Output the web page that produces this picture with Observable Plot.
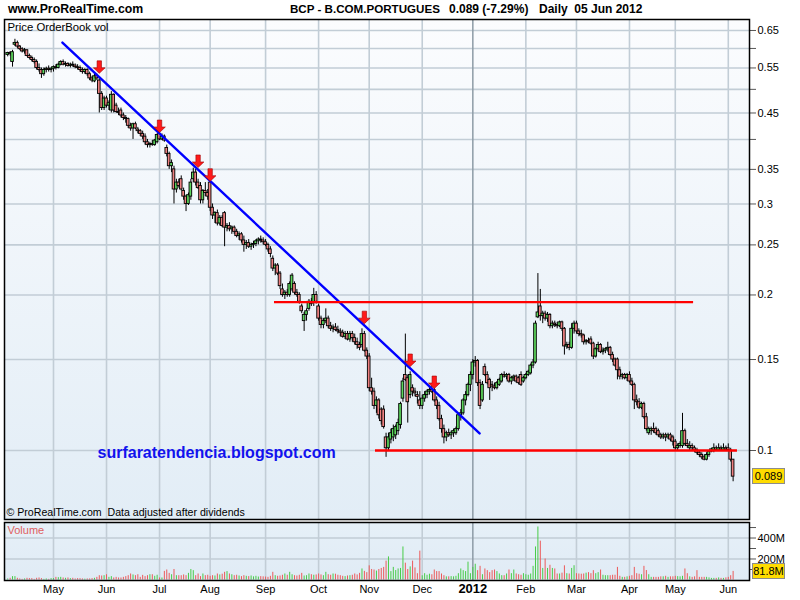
<!DOCTYPE html>
<html><head><meta charset="utf-8">
<script src="https://cdn.jsdelivr.net/npm/d3@7"></script>
<script src="https://cdn.jsdelivr.net/npm/@observablehq/plot@0.6"></script>
<style>
body{margin:0;background:#fff;font-family:"Liberation Sans",Arial,sans-serif;}
#wrap{position:relative;width:800px;height:600px;overflow:hidden;background:#fff}
#price{position:absolute;left:0;top:0}
#vol{position:absolute;left:0;top:520px}
.t{position:absolute;top:2px;font-weight:bold;font-size:12px;line-height:14px;white-space:pre;color:#000}
.box{position:absolute;left:752px;width:31px;height:14px;background:#ffdc00;border:1px solid #8c8c8c;font-size:11px;line-height:14px;text-align:center;color:#000}
</style></head>
<body><div id="wrap">
<div class="t" style="left:8px;font-size:12.3px">www.ProRealTime.com</div>
<div class="t" style="left:290px;font-size:11.6px">BCP - B.COM.PORTUGUES</div>
<div class="t" id="chg" style="left:449px"></div>
<div class="t" style="left:539px">Daily  05 Jun 2012</div>
<div id="price"></div>
<div id="vol"></div>
<div class="box" id="pbox"></div>
<div class="box" id="vbox"></div>
</div>
<script>
// Daily candles [open, high, low, close], one array per month
const apr11 = [[.583,.59,.578,.588],[.588,.592,.58,.585],[.565,.595,.552,.59],[.61,.625,.605,.615],[.615,.62,.60,.605],[.605,.608,.595,.598],[.598,.602,.588,.592],[.592,.60,.585,.595],[.595,.597,.578,.58],[.58,.585,.572,.575],[.575,.58,.565,.57],[.57,.575,.56,.565],[.565,.57,.545,.55],[.55,.56,.54,.545],[.545,.55,.525,.535],[.535,.55,.53,.545],[.545,.552,.538,.548],[.548,.555,.54,.545],[.545,.55,.538,.548]];
const may11 = [[.548,.555,.54,.552],[.552,.558,.545,.55],[.55,.562,.548,.558],[.558,.568,.555,.565],[.565,.57,.555,.558],[.558,.565,.552,.56],[.56,.563,.552,.555],[.555,.562,.55,.558],[.558,.565,.552,.556],[.556,.56,.548,.552],[.552,.558,.545,.55],[.55,.555,.54,.545],[.545,.55,.535,.54],[.54,.548,.535,.545],[.545,.548,.53,.535],[.535,.54,.52,.525],[.525,.53,.515,.52],[.518,.535,.515,.53],[.53,.535,.52,.525],[.52,.525,.45,.49],[.49,.495,.455,.46],[.46,.485,.455,.48]];
const jun11 = [[.48,.485,.46,.465],[.465,.475,.455,.47],[.455,.495,.45,.488],[.488,.49,.45,.455],[.465,.47,.45,.452],[.452,.46,.445,.45],[.455,.46,.44,.445],[.445,.45,.435,.44],[.44,.445,.43,.438],[.438,.44,.42,.425],[.425,.43,.415,.42],[.42,.43,.40,.428],[.428,.432,.418,.42],[.418,.422,.41,.415],[.415,.418,.405,.41],[.41,.415,.40,.405],[.405,.41,.39,.395],[.395,.40,.385,.39],[.39,.395,.385,.392],[.392,.398,.388,.39],[.39,.40,.388,.398],[.395,.41,.392,.408]];
const jul11 = [[.41,.412,.398,.40],[.40,.41,.398,.405],[.405,.408,.395,.398],[.385,.39,.37,.375],[.375,.378,.35,.355],[.355,.365,.345,.36],[.35,.355,.30,.32],[.32,.335,.315,.33],[.33,.335,.322,.325],[.335,.34,.318,.32],[.318,.322,.305,.31],[.31,.312,.29,.30],[.30,.315,.298,.312],[.31,.335,.305,.33],[.335,.352,.33,.345],[.345,.35,.325,.33],[.33,.335,.32,.322],[.325,.33,.30,.305],[.305,.32,.30,.318],[.318,.33,.31,.315],[.315,.32,.305,.31]];
const aug11 = [[.33,.335,.29,.295],[.295,.30,.28,.285],[.285,.29,.275,.288],[.288,.292,.272,.275],[.275,.285,.272,.282],[.282,.285,.27,.272],[.288,.29,.248,.27],[.27,.275,.265,.272],[.272,.276,.265,.268],[.268,.272,.262,.27],[.27,.272,.262,.265],[.265,.268,.258,.26],[.26,.265,.255,.262],[.262,.264,.252,.255],[.255,.26,.242,.25],[.25,.255,.245,.252],[.252,.256,.246,.248],[.248,.252,.244,.25],[.25,.254,.246,.251],[.251,.256,.248,.254],[.254,.258,.25,.256],[.256,.26,.252,.255],[.255,.258,.25,.253]];
const sep11 = [[.253,.256,.248,.25],[.25,.252,.242,.245],[.245,.248,.236,.24],[.235,.238,.222,.225],[.225,.23,.218,.228],[.228,.23,.218,.22],[.22,.222,.205,.208],[.205,.21,.198,.20],[.20,.204,.196,.202],[.202,.205,.198,.20],[.20,.212,.198,.21],[.205,.22,.203,.218],[.21,.212,.20,.202],[.202,.205,.198,.20],[.20,.202,.192,.194],[.19,.192,.184,.186],[.178,.185,.17,.183],[.183,.188,.178,.186],[.188,.196,.186,.194],[.194,.197,.19,.192],[.193,.206,.19,.20],[.20,.203,.192,.194]];
const oct11 = [[.19,.192,.178,.18],[.18,.182,.172,.175],[.175,.18,.172,.178],[.178,.188,.176,.18],[.18,.182,.172,.174],[.174,.177,.17,.172],[.172,.175,.169,.173],[.173,.176,.17,.171],[.171,.174,.168,.17],[.17,.172,.166,.169],[.169,.171,.165,.166],[.166,.17,.164,.168],[.168,.17,.163,.164],[.164,.17,.162,.168],[.168,.17,.162,.165],[.165,.168,.16,.162],[.162,.165,.157,.16],[.16,.162,.156,.158],[.16,.172,.158,.168],[.168,.17,.155,.156],[.156,.158,.15,.152]];
const nov11 = [[.152,.154,.13,.132],[.132,.138,.128,.13],[.13,.132,.12,.122],[.122,.127,.118,.125],[.125,.126,.115,.117],[.12,.121,.112,.114],[.12,.122,.11,.111],[.106,.108,.097,.101],[.101,.108,.10,.106],[.105,.11,.103,.108],[.106,.112,.104,.11],[.107,.112,.105,.111],[.109,.115,.107,.113],[.112,.124,.11,.123],[.126,.138,.124,.136],[.14,.168,.136,.137],[.138,.14,.113,.124],[.128,.142,.126,.14],[.132,.134,.127,.13],[.13,.132,.127,.129],[.128,.13,.123,.127],[.125,.13,.12,.122]];
const dec11 = [[.122,.128,.12,.126],[.126,.13,.124,.128],[.128,.131,.126,.13],[.13,.133,.128,.131],[.131,.134,.129,.13],[.131,.133,.124,.125],[.125,.127,.12,.122],[.122,.124,.114,.115],[.115,.117,.108,.11],[.11,.112,.103,.106],[.106,.109,.104,.108],[.108,.11,.106,.107],[.107,.109,.105,.108],[.108,.11,.106,.109],[.108,.111,.107,.11],[.11,.118,.109,.117],[.117,.12,.114,.118],[.118,.126,.117,.125],[.125,.13,.122,.128],[.128,.135,.127,.134],[.134,.142,.13,.14]];
const jan12 = [[.14,.15,.137,.148],[.148,.152,.145,.149],[.149,.15,.133,.135],[.135,.137,.12,.122],[.125,.136,.124,.134],[.145,.147,.139,.14],[.14,.142,.134,.135],[.137,.138,.125,.132],[.134,.136,.13,.133],[.133,.135,.131,.132],[.132,.136,.131,.135],[.134,.138,.133,.137],[.136,.141,.135,.14],[.14,.142,.138,.139],[.139,.141,.137,.14],[.14,.141,.135,.136],[.136,.139,.134,.138],[.138,.14,.136,.139],[.139,.14,.135,.136],[.138,.139,.134,.135],[.14,.142,.133,.134],[.136,.139,.135,.138]];
const feb12 = [[.138,.141,.137,.14],[.14,.143,.139,.142],[.141,.147,.14,.146],[.146,.15,.144,.148],[.148,.178,.147,.176],[.181,.22,.18,.185],[.19,.205,.178,.182],[.182,.186,.176,.184],[.184,.186,.178,.18],[.18,.185,.177,.183],[.183,.184,.172,.174],[.174,.178,.172,.176],[.176,.178,.173,.175],[.175,.177,.172,.174],[.174,.178,.173,.177],[.177,.178,.17,.172],[.172,.173,.153,.159],[.159,.162,.157,.16],[.16,.162,.156,.158],[.158,.176,.157,.172],[.172,.178,.168,.176]];
const mar12 = [[.176,.178,.168,.17],[.17,.172,.166,.168],[.168,.171,.165,.167],[.167,.168,.16,.162],[.162,.164,.16,.163],[.163,.165,.161,.162],[.164,.166,.16,.161],[.161,.162,.15,.152],[.152,.158,.151,.157],[.157,.162,.155,.16],[.16,.161,.154,.155],[.155,.158,.153,.156],[.156,.158,.154,.157],[.157,.162,.155,.158],[.158,.159,.152,.153],[.153,.155,.148,.15],[.15,.151,.145,.146],[.15,.151,.137,.143],[.143,.145,.137,.139],[.139,.141,.137,.14],[.14,.141,.137,.138],[.138,.141,.136,.14]];
const apr12 = [[.14,.142,.135,.136],[.136,.138,.133,.134],[.134,.135,.12,.125],[.125,.128,.122,.124],[.124,.126,.12,.121],[.121,.124,.12,.123],[.123,.124,.115,.116],[.116,.118,.109,.11],[.108,.111,.107,.11],[.109,.111,.107,.11],[.11,.113,.108,.109],[.11,.111,.107,.108],[.109,.11,.106,.107],[.107,.108,.105,.106],[.106,.108,.105,.107],[.107,.108,.104,.106],[.106,.108,.105,.107],[.107,.108,.104,.105],[.106,.107,.102,.104]];
const may12 = [[.104,.105,.10,.101],[.101,.103,.10,.102],[.102,.104,.101,.103],[.102,.118,.101,.109],[.109,.11,.102,.103],[.103,.105,.101,.102],[.101,.104,.10,.102],[.102,.103,.10,.101],[.101,.102,.099,.10],[.10,.101,.098,.099],[.099,.10,.097,.098],[.098,.099,.096,.097],[.097,.098,.0955,.096],[.096,.099,.0955,.098],[.098,.10,.097,.0995],[.0995,.101,.099,.1005],[.1,.103,.099,.101],[.101,.102,.1,.1003],[.1,.103,.1,.101],[.101,.102,.1,.1004],[.1,.103,.1,.101],[.101,.102,.1,.1004]];
const jun12 = [[.101,.103,.1,.1002],[.1,.101,.095,.096],[.096,.096,.087,.089]];

// Daily volume in millions of shares, one array per month
const volApr11 = [10,16,32,32,16,10,6,10,16,13,13,6,16,19,13,6,10,6,13];
const volMay11 = [13,25,22,25,19,16,19,13,16,10,13,13,10,8,10,10,13,16,25,41,38,41];
const volJun11 = [50,25,32,19,25,19,19,25,32,41,57,48,41,50,25,44,32,41,50,50,35,45];
const volJul11 = [19,19,82,95,63,50,100,41,41,41,48,41,63,100,89,41,57,32,57,41,45];
const volAug11 = [35,41,38,57,48,55,73,80,57,50,41,45,38,32,41,35,32,38,30,35,28,32,30];
const volSep11 = [28,25,35,73,41,35,38,45,57,45,73,50,41,38,45,63,38,41,57,50,45,48];
const volOct11 = [57,48,41,73,50,45,57,55,45,41,35,32,38,41,45,57,48,63,105,82,70];
const volNov11 = [135,100,95,85,100,110,120,180,220,80,120,90,105,110,315,160,100,125,180,115,60,275];
const volDec11 = [40,60,45,55,50,95,80,80,57,41,30,30,32,30,35,60,105,89,80,170,60];
const volJan12 = [120,150,89,130,50,105,89,70,89,95,80,57,41,41,57,95,60,95,57,50,45,60];
const volFeb12 = [50,45,57,130,315,505,370,110,200,110,140,110,105,57,57,65,135,60,57,110,136];
const volMar12 = [60,57,55,57,65,70,60,89,60,70,95,45,41,41,41,45,45,120,35,25,25,30];
const volApr12 = [35,41,120,60,55,50,130,90,50,25,25,25,25,30,30,35,25,30,30];
const volMay12 = [35,32,30,35,105,60,30,25,30,89,25,25,25,25,20,15,15,15,20,15,15,20];
const volJun12 = [25,41,81.8];

// Axis ticks
const monthTickLabels = ["May","Jun","Jul","Aug","Sep","Oct","Nov","Dec","2012","Feb","Mar","Apr","May","Jun"];
const priceTicks = [0.65,0.6,0.55,0.5,0.45,0.4,0.35,0.3,0.25,0.2,0.15,0.1];
const priceTickLabels = [0.65,0.55,0.45,0.35,0.3,0.25,0.2,0.15,0.1];
const volTicks = [100,200,300,400,500];
const volTickLabels = [200,400];

// Annotations (trading-day index, price)
const trendIdx = [22.7, 195.8];
const trendPrice = [0.616, 0.1079];
const resistIdx = [110.7, 284.6];
const resistPrice = 0.1937;
const supportIdx = [152.6, 302.8];
const supportPrice = 0.1;
const arrowIdx = [38, 63, 79, 84, 148, 167, 177];
const arrowTip = [0.537, 0.4125, 0.353, 0.332, 0.176, 0.1454, 0.1318];

const monthArrays = [apr11,may11,jun11,jul11,aug11,sep11,oct11,nov11,dec11,jan12,feb12,mar12,apr12,may12,jun12];
const volArrays = [volApr11,volMay11,volJun11,volJul11,volAug11,volSep11,volOct11,volNov11,volDec11,volJan12,volFeb12,volMar12,volApr12,volMay12,volJun12];
const candles = monthArrays.flat();
const volumes = volArrays.flat();
const data = candles.map(([o,h,l,c],i)=>({i,o,h,l,c,v:volumes[i],up:c>o}));
const starts=[]; {let k=0; for(const m of monthArrays){starts.push(k); k+=m.length;}}
const ticks = starts.slice(1).map((s,j)=>({i:s,label:monthTickLabels[j]}));
const yearTick = ticks.filter(t=>t.label==="2012");
const plainTicks = ticks.filter(t=>t.label!=="2012");

const RED="#ee8080", GREEN="#5cd65c", VRED="#ec5a5a", VGREEN="#48cc48", GRID="#c2cdd6";
const xDomain=[-1.33, 307.8];
const FONT='"Liberation Sans", Arial, sans-serif';

function gradient(id,c0,c1){
  return () => {
    const g=d3.create("svg:defs");
    const lg=g.append("linearGradient").attr("id",id).attr("x1",0).attr("y1",0).attr("x2",0).attr("y2",1);
    lg.append("stop").attr("offset","0%").attr("stop-color",c0);
    lg.append("stop").attr("offset","100%").attr("stop-color",c1);
    return g.node();
  };
}
const arrowSymbol={draw(ctx){ctx.moveTo(-2.2,-12.5);ctx.lineTo(2.2,-12.5);ctx.lineTo(2.2,-5.5);ctx.lineTo(5.8,-5.5);ctx.lineTo(0,0);ctx.lineTo(-5.8,-5.5);ctx.lineTo(-2.2,-5.5);ctx.closePath();}};

const priceChart = Plot.plot({
  width:800, height:520, marginLeft:4, marginRight:51, marginTop:19, marginBottom:1,
  style:{fontFamily:FONT, fontSize:"11px", background:"transparent", overflow:"visible"},
  x:{domain:xDomain, axis:null},
  y:{type:"log", domain:[0.07353,0.6826]},
  marks:[
    gradient("pg","#fbfcfe","#e2edf6"),
    Plot.frame({fill:"url(#pg)"}),
    Plot.gridY(priceTicks,{stroke:GRID,strokeOpacity:1,strokeWidth:1.6}),
    Plot.ruleX(plainTicks,{x:"i",stroke:GRID,strokeWidth:1.6}),
    Plot.ruleX(yearTick,{x:"i",stroke:"#8d9ba6",strokeWidth:1.5}),
    Plot.ruleX(data,{x:"i",y1:"l",y2:"h",stroke:"#000",strokeWidth:1}),
    Plot.rect(data,{x1:d=>d.i-0.55,x2:d=>d.i+0.55,y1:"o",y2:"c",fill:d=>d.up?GREEN:RED,stroke:"#000",strokeWidth:0.9}),
    Plot.line(trendIdx.map((i,j)=>({i,p:trendPrice[j]})),{x:"i",y:"p",stroke:"#0000ff",strokeWidth:2.4}),
    Plot.ruleY([resistPrice],{x1:resistIdx[0],x2:resistIdx[1],stroke:"#ff0000",strokeWidth:2.4}),
    Plot.ruleY([supportPrice],{x1:supportIdx[0],x2:supportIdx[1],stroke:"#ff0000",strokeWidth:2.4}),
    Plot.dot(arrowIdx.map((i,j)=>({i,p:arrowTip[j]})),{x:"i",y:"p",symbol:arrowSymbol,fill:"#ff1a1a",stroke:"#a00000",strokeWidth:0.6,r:5}),
    Plot.axisY({anchor:"right",ticks:priceTicks,tickFormat:d=>priceTickLabels.includes(d)?String(d):"",tickSize:6,tickPadding:2,fontSize:11,stroke:"#555",fill:"#000",label:null}),
    Plot.text(["Price OrderBook vol"],{frameAnchor:"top-left",dx:3,dy:3,lineAnchor:"top",fontSize:11.3,fill:"#000"}),
    Plot.text(["© ProRealTime.com  Data adjusted after dividends"],{frameAnchor:"top-left",dx:2,dy:489,lineAnchor:"top",fontSize:10.6,fill:"#000"}),
    Plot.text(["surfaratendencia.blogspot.com"],{frameAnchor:"top-left",dx:93,dy:427,lineAnchor:"top",fontSize:16,fontWeight:"bold",fill:"#1212ee"}),
    Plot.frame({stroke:"#000",strokeWidth:1.5})
  ]
});
document.getElementById("price").appendChild(priceChart);

const volChart = Plot.plot({
  width:800, height:80, marginLeft:4, marginRight:51, marginTop:2, marginBottom:20,
  style:{fontFamily:FONT, fontSize:"11px", background:"transparent", overflow:"visible"},
  x:{domain:xDomain, axis:null},
  y:{domain:[-5,548]},
  marks:[
    gradient("vg","#e6f0f8","#e0ebf5"),
    Plot.frame({fill:"url(#vg)"}),
    Plot.gridY(volTickLabels,{stroke:GRID,strokeOpacity:1,strokeWidth:1.6}),
    Plot.ruleX(plainTicks,{x:"i",stroke:GRID,strokeWidth:1.6}),
    Plot.ruleX(yearTick,{x:"i",stroke:"#8d9ba6",strokeWidth:1.5}),
    Plot.ruleX(data,{x:"i",y1:0,y2:"v",stroke:d=>d.up?VGREEN:VRED,strokeWidth:1}),
    Plot.axisY({anchor:"right",ticks:volTicks,tickFormat:d=>volTickLabels.includes(d)?d+"M":"",tickSize:6,tickPadding:2,fontSize:11,stroke:"#555",fill:"#000",label:null}),
    Plot.text(plainTicks,{x:"i",text:"label",frameAnchor:"bottom",dy:12,fontSize:11,fill:"#000"}),
    Plot.text(yearTick,{x:"i",text:"label",frameAnchor:"bottom",dy:12,fontSize:13,fontWeight:"bold",fill:"#000"}),
    Plot.text(["Volume"],{frameAnchor:"top-left",dx:3,dy:4,lineAnchor:"top",fontSize:11,fill:"#e06060"}),
    Plot.frame({stroke:"#000",strokeWidth:1.5})
  ]
});
document.getElementById("vol").appendChild(volChart);

const last=data[data.length-1], prev=data[data.length-2];
document.getElementById("chg").textContent = `${last.c} (${((last.c/prev.c-1)*100).toFixed(2)}%)`;
const pb=document.getElementById("pbox");
pb.textContent=String(last.c);
pb.style.top=(priceChart.scale("y").apply(last.c)-8)+"px";
const vb=document.getElementById("vbox");
vb.textContent=last.v+"M";
vb.style.top=(520+volChart.scale("y").apply(last.v)-8)+"px";
</script>
</body></html>
